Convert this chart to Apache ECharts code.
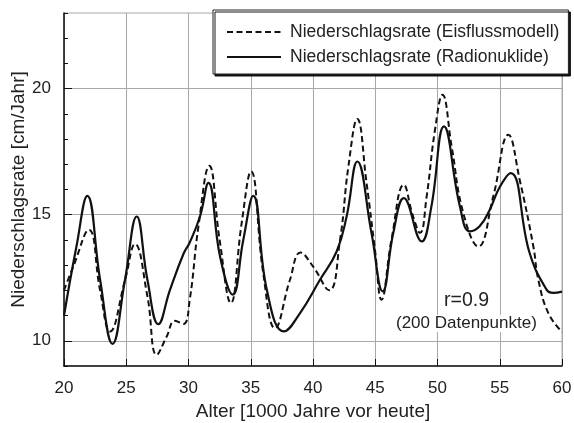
<!DOCTYPE html>
<html>
<head>
<meta charset="utf-8">
<script src="https://cdn.jsdelivr.net/npm/echarts@6/dist/echarts.min.js"></script>
<style>
  html, body { margin: 0; padding: 0; background: #fff; }
  #chart { width: 574px; height: 423px; }
</style>
</head>
<body>
<div id="chart"></div>
<script>
// Niederschlagsrate nach Eisflussmodell (gestrichelt)
const ageEis = [20.0, 20.75, 22.0, 22.9, 23.7, 24.9, 25.7, 26.7, 27.45, 28.25, 28.9, 29.6, 30.1, 30.8,
  31.67, 32.5, 33.4, 34.27, 35.02, 36.0, 36.95, 38.15, 39.0, 40.0, 41.3, 42.17, 42.84, 43.56, 44.3,
  44.98, 45.5, 46.3, 47.3, 48.0, 48.6, 49.13, 49.8, 50.4, 51.14, 52.07, 53.28, 54.48, 55.69, 56.6,
  57.7, 58.1, 58.9, 60.0];
const rateEis = [12.0, 12.95, 14.4, 12.0, 10.37, 12.4, 13.84, 11.76, 9.44, 10.17, 10.79, 10.67, 11.63, 14.54,
  16.94, 14.0, 11.5, 14.67, 16.72, 12.69, 10.5, 12.42, 13.5, 12.95, 12.0, 14.0, 16.9, 18.8, 16.26,
  13.6, 11.63, 14.0, 16.19, 15.0, 14.28, 15.73, 18.37, 19.76, 17.7, 15.07, 13.74, 15.73, 18.17, 16.39,
  13.74, 12.42, 11.1, 10.35];

// Niederschlagsrate aus Radionukliden (durchgezogen)
const ageRad = [20.0, 21.0, 21.87, 22.9, 23.9, 24.9, 25.84, 26.7, 27.58, 28.5, 29.6, 30.1, 30.92, 31.6,
  32.53, 33.55, 34.4, 35.2, 36.3, 37.67, 38.96, 40.56, 41.9, 42.7, 43.56, 44.7, 45.6, 46.45, 47.3,
  48.73, 49.5, 50.52, 51.8, 52.6, 53.4, 54.2, 55.0, 55.88, 57.4, 58.77, 59.3, 60.0];
const rateRad = [11.0, 13.74, 15.75, 12.42, 9.88, 12.42, 14.93, 12.42, 10.66, 12.0, 13.45, 13.9, 14.93, 16.26,
  13.35, 11.83, 14.0, 15.75, 12.0, 10.37, 11.1, 12.42, 13.54, 14.93, 17.11, 14.27, 11.96, 14.28, 15.66,
  13.94, 15.3, 18.5, 15.33, 14.34, 14.55, 15.2, 16.1, 16.65, 13.48, 12.02, 11.9, 11.95];

const yLabels = [10, 15, 20];
const xTicks = [20, 25, 30, 35, 40, 45, 50, 55, 60];

const nameEis = 'Niederschlagsrate (Eisflussmodell)';
const nameRad = 'Niederschlagsrate (Radionuklide)';

const font = '"Liberation Sans", Arial, Helvetica, sans-serif';
const ink = '#111';
const gridGray = '#a8a8a8';

const pairs = (xs, ys) => xs.map((x, i) => [x, ys[i]]);

const chart = echarts.init(document.getElementById('chart'), null, { renderer: 'canvas' });

chart.setOption({
  animation: false,
  backgroundColor: '#fff',
  textStyle: { fontFamily: font, color: ink },
  grid: {
    left: 64, right: 12, top: 13, bottom: 57,
    containLabel: false, outerBoundsMode: 'none',
    show: true, borderColor: gridGray, borderWidth: 1, backgroundColor: 'transparent'
  },
  legend: {
    left: 213, top: 10,
    orient: 'vertical',
    backgroundColor: '#fff',
    borderColor: '#222', borderWidth: 1, borderRadius: 0,
    shadowColor: 'rgba(0,0,0,0.9)', shadowBlur: 0, shadowOffsetX: 2, shadowOffsetY: 2,
    padding: [12, 9, 7, 13],
    itemWidth: 54, itemHeight: 14, itemGap: 5,
    itemStyle: { opacity: 0 },
    textStyle: { fontFamily: font, fontSize: 17.5, color: '#222', lineHeight: 20, padding: [0, 0, 0, 4] },
    data: [nameEis, nameRad]
  },
  xAxis: {
    type: 'value', min: 20, max: 60, interval: 5,
    name: 'Alter [1000 Jahre vor heute]',
    nameLocation: 'middle', nameGap: 36, nameMoveOverlap: false,
    nameTextStyle: { fontFamily: font, fontSize: 19, color: '#222' },
    axisLine: { show: true, onZero: false, lineStyle: { color: ink, width: 1.5 } },
    axisTick: { show: true, inside: true, length: 7, lineStyle: { color: ink, width: 1 } },
    axisLabel: { margin: 14, fontFamily: font, fontSize: 17, color: '#222',
      formatter: v => (xTicks.includes(v) ? String(v) : '') },
    splitLine: { show: true, lineStyle: { color: gridGray, width: 1 } }
  },
  yAxis: [{
    type: 'value', min: 9, max: 23, interval: 1,
    name: 'Niederschlagsrate [cm/Jahr]',
    nameLocation: 'middle', nameGap: 36, nameRotate: 90, nameMoveOverlap: false,
    nameTextStyle: { fontFamily: font, fontSize: 19, color: '#222' },
    axisLine: { show: true, onZero: false, lineStyle: { color: ink, width: 1.5 } },
    axisTick: { show: true, inside: true, length: 4, lineStyle: { color: ink, width: 1 } },
    axisLabel: { margin: 13, fontFamily: font, fontSize: 17, color: '#222',
      formatter: v => (yLabels.includes(v) ? String(v) : '') },
    splitLine: { show: true, lineStyle: { color: ['transparent', gridGray, 'transparent', 'transparent', 'transparent'], width: 1 } }
  }, {
    type: 'value', min: 9, max: 23, interval: 1, position: 'left',
    axisLine: { show: false },
    axisTick: { show: true, inside: true, length: 8, customValues: yLabels, lineStyle: { color: ink, width: 1 } },
    axisLabel: { show: false },
    splitLine: { show: false }
  }],
  series: [{
    name: nameEis, type: 'line', yAxisIndex: 0,
    data: pairs(ageEis, rateEis),
    smooth: 0.45, symbol: 'none', showSymbol: false,
    lineStyle: { color: ink, width: 2, type: [6, 3.5] },
    itemStyle: { color: ink },
    z: 3
  }, {
    name: nameRad, type: 'line', yAxisIndex: 0,
    data: pairs(ageRad, rateRad),
    smooth: 0.45, symbol: 'none', showSymbol: false,
    lineStyle: { color: ink, width: 2.2, type: 'solid' },
    itemStyle: { color: ink },
    z: 4
  }],
  graphic: [{
    type: 'text', left: 443, top: 291, z: 10,
    style: { text: 'r=0.9', fontFamily: font, fontSize: 19.5, fill: '#222', backgroundColor: '#fff', padding: [0, 1] }
  }, {
    type: 'text', left: 395, top: 315, z: 10,
    style: { text: '(200 Datenpunkte)', fontFamily: font, fontSize: 17, fill: '#222', backgroundColor: '#fff', padding: [0, 1] }
  }]
});
</script>
</body>
</html>
